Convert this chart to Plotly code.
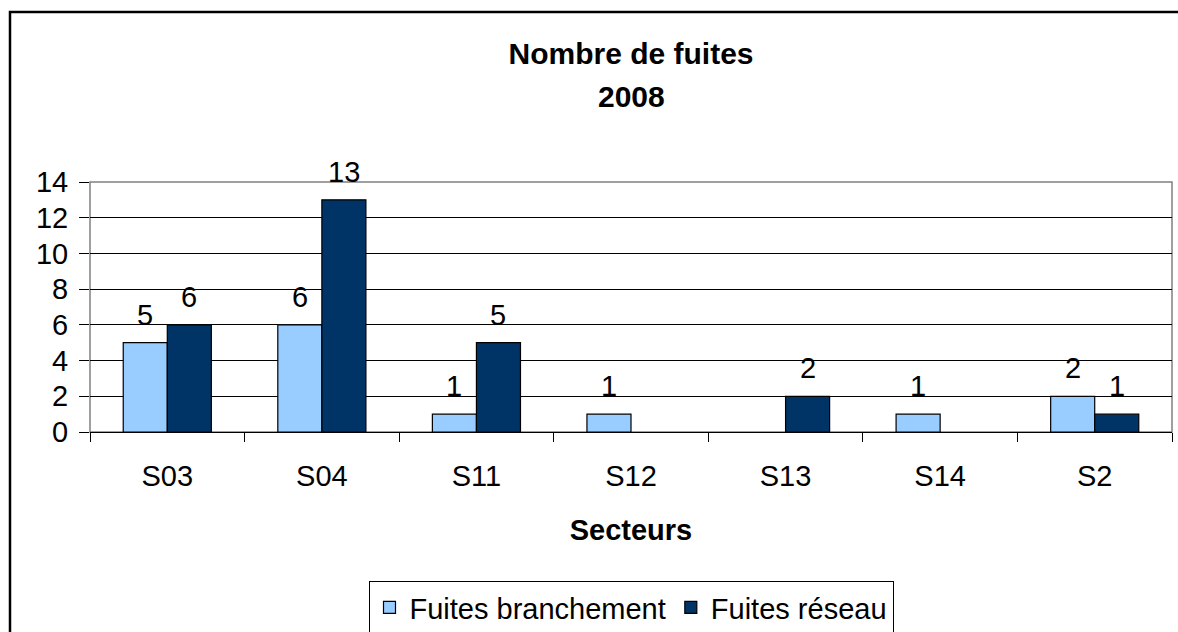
import plotly.graph_objects as go

categories = ["S03", "S04", "S11", "S12", "S13", "S14", "S2"]
branchement = [5, 6, 1, 1, 0, 1, 2]
reseau = [6, 13, 5, 0, 2, 0, 1]
series_names = ["Fuites branchement", "Fuites réseau"]
colors = ["#99CCFF", "#003366"]
y_ticks = [0, 2, 4, 6, 8, 10, 12, 14]

FONT = "Liberation Sans, Arial, sans-serif"
FS = 29

fig = go.Figure()
for name, vals, col in zip(series_names, [branchement, reseau], colors):
    fig.add_trace(go.Bar(
        x=categories, y=[v if v else None for v in vals], name=name,
        marker=dict(color=col, line=dict(color="#000000", width=1.2)),
    ))

annotations = []
for shift, vals in ((-22, branchement), (22, reseau)):
    for c, v in zip(categories, vals):
        if v:
            annotations.append(dict(
                x=c, y=v, xref="x", yref="y", text=str(v), showarrow=False,
                xshift=shift, yshift=28, yanchor="middle",
                font=dict(family=FONT, size=FS, color="#000000"),
            ))

annotations.append(dict(
    x=0.5, y=(432 - 97) / 250, xref="paper", yref="paper", text="<b>2008</b>",
    showarrow=False, yanchor="middle",
    font=dict(family=FONT, size=30, color="#000000"),
))

fig.update_layout(
    width=1178, height=632,
    margin=dict(l=90, r=6, t=182, b=200, autoexpand=False),
    paper_bgcolor="#FFFFFF", plot_bgcolor="#FFFFFF",
    barmode="group", bargap=0.43, bargroupgap=0,
    font=dict(family=FONT, size=FS, color="#000000"),
    title=dict(text="<b>Nombre de fuites</b>", x=0.5, xanchor="center",
               y=1 - 53 / 632, yanchor="middle", xref="paper",
               font=dict(family=FONT, size=30, color="#000000")),
    xaxis=dict(
        type="category", showgrid=False, showline=True, linecolor="#000000", linewidth=1,
        ticks="outside", tickson="boundaries", ticklen=9, tickcolor="#000000",
        tickfont=dict(family=FONT, size=FS), ticklabelstandoff=18, automargin=False,
        title=dict(text="<b>Secteurs</b>", standoff=28,
                   font=dict(family=FONT, size=FS)),
    ),
    yaxis=dict(
        range=[0, 14], tickvals=y_ticks, showgrid=True, gridcolor="#000000", gridwidth=1,
        zeroline=False, showline=False, automargin=False,
        ticks="outside", ticklen=10, tickcolor="#000000",
        tickfont=dict(family=FONT, size=FS), ticklabelstandoff=5,
    ),
    showlegend=True,
    legend=dict(
        orientation="h", x=0.5, xanchor="center",
        yref="container", y=(632 - 581) / 632, yanchor="top",
        bordercolor="#000000", borderwidth=1, bgcolor="#FFFFFF",
        font=dict(family=FONT, size=FS), tracegroupgap=0,
    ),
    annotations=annotations,
    shapes=[
        dict(type="rect", xref="paper", yref="paper", x0=0, x1=1, y0=0, y1=1,
             line=dict(color="#808080", width=1.5), layer="below"),
        dict(type="rect", xref="paper", yref="paper",
             x0=(10 - 90) / 1082, x1=1.2, y0=-1.5, y1=(432 - 12) / 250,
             line=dict(color="#000000", width=2.5), layer="above"),
    ],
)

fig.write_html("out.html", config={"displayModeBar": False},
               post_script="document.body.style.margin='0';")
